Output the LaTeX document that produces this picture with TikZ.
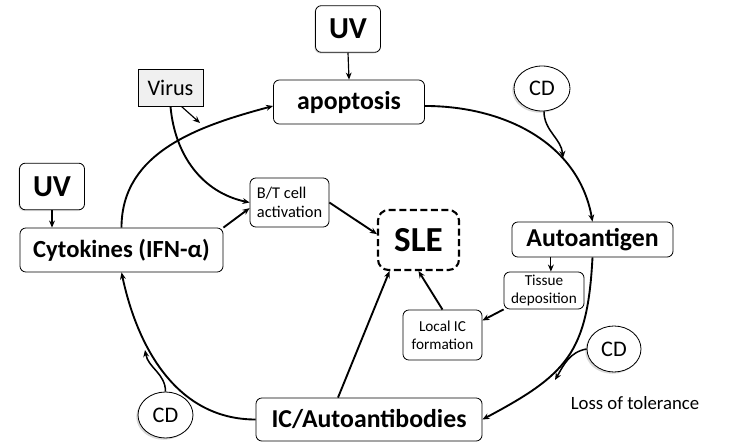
\documentclass[tikz,border=0pt]{standalone}
\usepackage{fontspec}
\setmainfont{Carlito}
\usetikzlibrary{arrows.meta,shapes,positioning,shadows}
\tikzstyle{arrow} = [-{Stealth[length=6pt,width=5pt]}, line width=1pt]
\tikzstyle{thickarrow} = [arrow, line width=1.6pt]
\tikzstyle{wiggle} = [arrow, line width=1.3pt]
\tikzstyle{stdNode} = [shape = rectangle, draw, rounded corners=5pt, inner sep=0pt, line width=0.7pt]
\tikzstyle{bigNode} = [stdNode, font=\fontsize{22}{24}\selectfont\bfseries]
\tikzstyle{smallNode} = [stdNode, align=center, font=\fontsize{13}{15}\selectfont]
\tikzstyle{uvNode} = [stdNode, fill=white, minimum width=1.95cm, minimum height=1.4cm, font=\fontsize{26}{28}\selectfont\bfseries, drop shadow={shadow xshift=-1pt, shadow yshift=-1pt, opacity=0.25}]
\tikzstyle{cdNode} = [shape = ellipse, draw, fill=white, inner sep=0pt, line width=0.7pt, minimum width=1.65cm, minimum height=1.38cm, font=\fontsize{19}{21}\selectfont, drop shadow={shadow xshift=-1.5pt, shadow yshift=-1.5pt, opacity=0.3}]

\begin{document}
\begin{tikzpicture}[x=0.03cm, y=-0.03cm]
					\useasboundingbox (0,0) rectangle (749,447);
					% triggers
					\node (uvTop) [uvNode] at (348,29) {UV};
					\node (uvLeft) [uvNode] at (52,186.5) {UV};
					\node (virus) [stdNode, rounded corners=0pt, fill=gray!12, minimum width=1.95cm, minimum height=1.11cm, font=\fontsize{19}{21}\selectfont, drop shadow={shadow xshift=1pt, shadow yshift=-1pt, opacity=0.3}] at (170.5,87.5) {
						Virus
					};
					% the cycle
					\node (apoptosis) [bigNode, minimum width=4.53cm, minimum height=1.32cm] at (349,102) {
						apoptosis
					};
					\node (autoantigen) [bigNode, minimum width=4.83cm, minimum height=1.05cm] at (592.5,239.5) {
						Autoantigen
					};
					\node (icab) [bigNode, minimum width=6.78cm, minimum height=1.29cm] at (369,419.5) {
						IC/Autoantibodies
					};
					\node (cytokines) [bigNode, font=\fontsize{21}{23}\selectfont\bfseries, minimum width=6.09cm, minimum height=1.32cm] at (121.5,250) {
						Cytokines (IFN-α)
					};
					% inner boxes
					\node (sle) [stdNode, dash pattern=on 6pt off 3pt, line width=1.8pt, rounded corners=9pt, minimum width=2.43cm, minimum height=1.8cm, font=\fontsize{30}{32}\selectfont\bfseries] at (418.5,240) {
						SLE
					};
					\node (btcell) [smallNode, align=left, font=\fontsize{14}{16}\selectfont, minimum width=2.37cm, minimum height=1.47cm] at (289.5,202.5) {
						B/T cell\\activation
					};
					\node (tissue) [smallNode, minimum width=2.4cm, minimum height=1.11cm] at (544,290.5) {
						Tissue\\deposition
					};
					\node (localic) [smallNode, minimum width=2.37cm, minimum height=1.5cm] at (442.5,335) {
						Local IC\\formation
					};
					% CD
					\node (cdTop) [cdNode, minimum width=1.68cm, minimum height=1.35cm] at (542,88.5) {CD};
					\node (cdRight) [cdNode, minimum width=1.62cm] at (614,349) {CD};
					\node (cdLeft) [cdNode] at (165.5,415) {CD};
					\node (loss) [font=\fontsize{16}{18}\selectfont] at (635,403) {Loss of tolerance};
					\coordinate (cdTopHit) at (563,158);
					\coordinate (cdRightHit) at (555,380);
					\coordinate (cdLeftHit) at (145,350);
					\coordinate (virusHit) at (200,123);

					\draw[thickarrow] (apoptosis.-3) to[out=0, in=100] (autoantigen.north);
					\draw[thickarrow] (autoantigen.south) to[out=-93, in=28, looseness=1.25] (icab.east);
					\draw[thickarrow] (icab.west) to[out=180, in=-78] (cytokines.south);
					\draw[thickarrow] (cytokines.north) to[out=90, in=195] (apoptosis.183);

					\draw[arrow] (uvTop.south) -- (apoptosis.north);
					\draw[arrow] (uvLeft.south) -- (uvLeft.south |- cytokines.north);
					\draw[arrow] (virus.-60) -- (virusHit);
					\draw[thickarrow] (virus.south) to[out=-85, in=168] (btcell.west);
					\draw[thickarrow] (cytokines.north east) -- (btcell.-172);
					\draw[thickarrow] (btcell.east) -- (sle.172);
					\draw[arrow] (autoantigen.south -| tissue.70) -- (tissue.70);
					\draw[thickarrow] (tissue.south west) -- (localic.20);
					\draw[thickarrow] (localic.north) -- (sle.south);
					\draw[thickarrow] ([xshift=-0.93cm]icab.north) -- (sle.-133);

					\draw[wiggle] (cdTop.-85) to[out=-90, in=95] (cdTopHit);
					\draw[wiggle] (cdRight.west) to[out=190, in=60] (cdRightHit);
					\draw[wiggle] (cdLeft.north) to[out=90, in=-80] (cdLeftHit);
\end{tikzpicture}
\end{document}
